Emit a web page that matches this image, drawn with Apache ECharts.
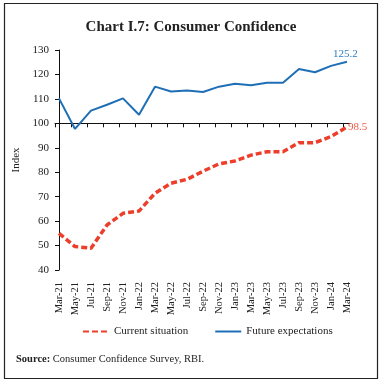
<!DOCTYPE html>
<html>
<head>
<meta charset="utf-8">
<script src="https://cdn.jsdelivr.net/npm/echarts@6/dist/echarts.min.js"></script>
<style>html,body{margin:0;padding:0;background:#fff}#c{width:382px;height:383px}</style>
</head>
<body>
<div id="c"></div>
<script>
const categories = ["Mar-21","May-21","Jul-21","Sep-21","Nov-21","Jan-22","Mar-22","May-22","Jul-22","Sep-22","Nov-22","Jan-23","Mar-23","May-23","Jul-23","Sep-23","Nov-23","Jan-24","Mar-24"];
const currentSituation = [55.0,49.6,48.9,58.4,63.2,64.1,71.4,75.5,77.1,80.4,83.4,84.6,87.0,88.4,88.4,92.1,92.1,94.6,98.5];
const futureExpectations = [110.2,97.7,105.2,107.6,110.2,103.5,115.0,113.0,113.4,112.8,115.0,116.2,115.6,116.6,116.6,122.2,120.9,123.5,125.2];
const yTicks = [40,50,60,70,80,90,100,110,120,130];

const FONT = "Liberation Serif";
const RED = "#ec3e2b";
const BLUE = "#1f6fb6";

const idx = categories.map((_, i) => i);
const pairs = arr => arr.map((v, i) => [i, v]);

const chart = echarts.init(document.getElementById('c'), null, {renderer: 'canvas'});
chart.setOption({
  animation: false,
  backgroundColor: '#fff',
  title: {
    text: 'Chart I.7: Consumer Confidence',
    left: 'center', top: 15,
    textStyle: {fontFamily: FONT, fontWeight: 'bold', fontSize: 15, color: '#222'}
  },
  grid: {left: 55, right: 32, top: 50, bottom: 113},
  xAxis: [{
    type: 'value', min: -0.25, max: 18.1875,
    axisLine: {show: false}, axisTick: {show: false}, splitLine: {show: false},
    axisLabel: {
      customValues: idx, rotate: 90, margin: 12,
      fontFamily: FONT, fontSize: 10.5, color: '#222',
      formatter: v => categories[Math.round(v)]
    }
  }, {
    type: 'value', min: -0.25, max: 18.1875, position: 'bottom', offset: -146.7,
    axisLine: {show: true, lineStyle: {color: '#111', width: 1}},
    axisTick: {show: true, customValues: idx.map(i => i - 0.25), length: 4, lineStyle: {color: '#111'}},
    axisLabel: {show: false}, splitLine: {show: false}
  }],
  yAxis: {
    type: 'value', min: 40, max: 130, interval: 10,
    name: 'Index', nameLocation: 'middle', nameGap: 30, nameRotate: 90,
    nameTextStyle: {fontFamily: FONT, fontSize: 11, color: '#222'},
    axisLine: {show: true, lineStyle: {color: '#111', width: 1}},
    axisTick: {show: true, length: 4, lineStyle: {color: '#111'}},
    axisLabel: {fontFamily: FONT, fontSize: 11, color: '#222', margin: 6,
      customValues: yTicks},
    splitLine: {show: false}
  },
  legend: {
    bottom: 41, left: 77, itemGap: 26, itemWidth: 26, itemHeight: 4,
    itemStyle: {opacity: 0},
    textStyle: {fontFamily: FONT, fontSize: 11, color: '#222'},
    data: ['Current situation', 'Future expectations']
  },
  series: [{
    name: 'Current situation', type: 'line', xAxisIndex: 0,
    data: pairs(currentSituation), symbol: 'none',
    lineStyle: {color: RED, width: 3.5, type: [6, 3]},
    itemStyle: {color: RED},
    endLabel: {show: true, distance: 1, fontFamily: FONT, fontSize: 11, color: '#f05a45',
      formatter: p => String(p.value[1])}
  }, {
    name: 'Future expectations', type: 'line', xAxisIndex: 0,
    data: pairs(futureExpectations), symbol: 'none',
    lineStyle: {color: BLUE, width: 2},
    itemStyle: {color: BLUE},
    endLabel: {show: true, distance: 0, offset: [-14, -8], fontFamily: FONT, fontSize: 11, color: '#2f7cc0',
      formatter: p => String(p.value[1])}
  }],
  graphic: [{
    type: 'rect', shape: {x: 4.5, y: 3.5, width: 373, height: 375},
    style: {fill: 'none', stroke: '#222', lineWidth: 1.2}, silent: true
  }, {
    type: 'text', left: 16, top: 354,
    style: {
      text: '{b|Source:} Consumer Confidence Survey, RBI.',
      rich: {b: {fontWeight: 'bold', fontFamily: FONT, fontSize: 10.5, fill: '#222'}},
      font: '10.5px "Liberation Serif"', fill: '#222'
    }
  }]
});
</script>
</body>
</html>
